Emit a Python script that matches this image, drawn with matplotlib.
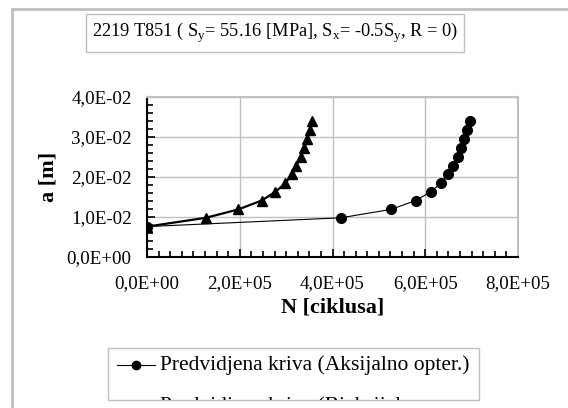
import matplotlib
matplotlib.use("Agg")
import matplotlib.pyplot as plt
from matplotlib.ticker import MultipleLocator, FuncFormatter
from matplotlib.patches import Rectangle
from matplotlib.lines import Line2D
from matplotlib.transforms import Bbox, TransformedBbox

plt.rcParams['font.family'] = ['Liberation Serif', 'DejaVu Serif']
plt.rcParams['mathtext.fontset'] = 'custom'
plt.rcParams['mathtext.rm'] = 'Liberation Serif'

# procitano sa slike
a_vals = [0.76e-2, 0.98e-2, 1.19e-2, 1.41e-2, 1.63e-2, 1.84e-2, 2.07e-2,
          2.28e-2, 2.50e-2, 2.72e-2, 2.94e-2, 3.17e-2, 3.40e-2]
N_aks = [0, 4.18e5, 5.26e5, 5.79e5, 6.12e5, 6.33e5, 6.48e5,
         6.60e5, 6.70e5, 6.78e5, 6.84e5, 6.90e5, 6.96e5]
N_biaks = [0, 1.27e5, 1.97e5, 2.47e5, 2.77e5, 2.98e5, 3.13e5,
           3.22e5, 3.31e5, 3.39e5, 3.46e5, 3.51e5, 3.56e5]

lab_aks = "Predvidjena kriva (Aksijalno opter.)"
lab_biaks = "Predvidjena kriva (Biaksijalno"

W, H = 568, 408
fig = plt.figure(figsize=(W/100, H/100), dpi=100)

# okvir grafikona
fig.add_artist(Rectangle((12/W, -0.1), 1.2, 1 - 9/H + 0.1, transform=fig.transFigure,
                         fill=False, edgecolor='#c0c0c0', linewidth=2))

ax = fig.add_axes([147/W, 1 - 257/H, (518-147)/W, (257-97)/H])
ax.plot(N_biaks, a_vals, '-^', color='black', lw=1.6, ms=7, zorder=3)
ax.plot(N_aks, a_vals, '-o', color='black', lw=0.8, ms=7, zorder=4)

ax.set_xlim(0, 8e5)
ax.set_ylim(0, 4e-2)
ax.xaxis.set_major_locator(MultipleLocator(2e5))
ax.xaxis.set_minor_locator(MultipleLocator(0.25e5))
ax.yaxis.set_major_locator(MultipleLocator(1e-2))
ax.yaxis.set_minor_locator(MultipleLocator(0.2e-2))
fmt = FuncFormatter(lambda v, p: f"{v:.1E}".replace('.', ','))
ax.xaxis.set_major_formatter(fmt)
ax.yaxis.set_major_formatter(fmt)
ax.grid(True, which='major', color='#c0c0c0', lw=1)
ax.set_axisbelow(True)
ax.tick_params(which='both', direction='in', labelsize=13.6, width=1.2)
ax.tick_params(which='major', length=6)
ax.tick_params(which='minor', length=4)
ax.tick_params(axis='x', pad=13)
ax.tick_params(axis='y', pad=11)
for s in ['top', 'right']:
    ax.spines[s].set_color('#c0c0c0')
    ax.spines[s].set_linewidth(1.5)
for s in ['left', 'bottom']:
    ax.spines[s].set_color('black')
    ax.spines[s].set_linewidth(1.5)

ax.set_xlabel("N [ciklusa]", fontsize=16, fontweight='bold', labelpad=4)
ax.set_ylabel("a [m]", fontsize=16, fontweight='bold', labelpad=6)

# naslov u okviru
fig.text(275/W, 1 - 33/H,
         r"2219 T851 ( S$_\mathrm{y}$= 55.16 [MPa], S$_\mathrm{x}$= -0.5S$_\mathrm{y}$, R = 0)",
         ha='center', va='center', fontsize=13.2,
         bbox=dict(boxstyle='square,pad=0.35', fc='white', ec='#c0c0c0', lw=1))

# legenda (drugi red odsecen okvirom legende)
lx0, lx1, ly0, ly1 = 108/W, 479/W, 1 - 400/H, 1 - 348/H
fig.add_artist(Rectangle((lx0, ly0), lx1 - lx0, ly1 - ly0,
                         transform=fig.transFigure, fc='white', ec='#c0c0c0', lw=1))
fig.add_artist(Line2D([117/W, 155/W], [1 - 365/H]*2, transform=fig.transFigure,
                      color='black', lw=0.8))
fig.add_artist(Line2D([136/W], [1 - 365/H], transform=fig.transFigure,
                      color='black', marker='o', ms=6, ls='none'))
fig.text(160/W, 1 - 365/H, lab_aks, ha='left', va='center', fontsize=15.5)
t2 = fig.text(160/W, 1 - 411/H, lab_biaks, ha='left', va='baseline', fontsize=15.5)
t2.set_clip_box(TransformedBbox(Bbox([[lx0, ly0], [lx1, ly1]]), fig.transFigure))
t2.set_clip_on(True)

fig.savefig("out.png", dpi=100)
